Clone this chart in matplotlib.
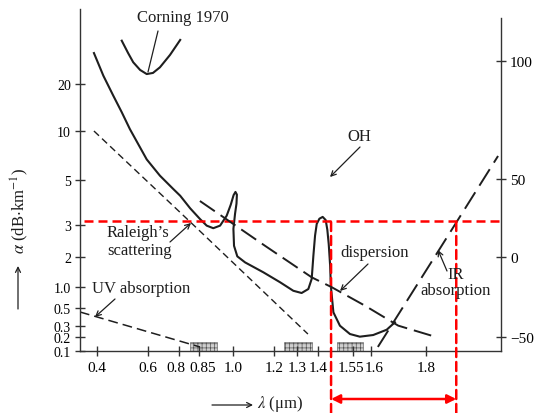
import numpy as np
import matplotlib
matplotlib.use("Agg")
import matplotlib.pyplot as plt
from matplotlib.transforms import ScaledTranslation

plt.rcParams['font.family'] = ['Liberation Serif', 'DejaVu Serif']
plt.rcParams['mathtext.fontset'] = 'stix'
plt.rcParams['hatch.linewidth'] = 0.5

# total attenuation of a low-loss fibre (dB/km)
loss_lam = [0.388, 0.425, 0.464, 0.497, 0.529, 0.595, 0.677, 0.763, 0.803, 0.828,
            0.854, 0.884, 0.913, 0.943, 0.972, 0.990, 1.003, 1.012, 1.019, 1.017,
            1.010, 1.002, 1.005, 1.021, 1.059, 1.148, 1.226, 1.284, 1.322, 1.354,
            1.370, 1.378, 1.386, 1.394, 1.406, 1.420, 1.433, 1.440, 1.446, 1.452,
            1.455, 1.466, 1.494, 1.537, 1.569, 1.608, 1.657, 1.687]
loss_alpha = [36.5, 24.4, 17.5, 14.0, 10.4, 7.1, 5.44, 4.6, 4.3, 3.74,
              3.27, 2.98, 2.90, 2.98, 3.41, 3.90, 4.33, 4.47, 4.35, 3.95,
              3.50, 2.88, 2.35, 2.02, 1.82, 1.49, 1.16, 0.91, 0.857, 0.952,
              1.27, 2.04, 2.67, 3.05, 3.28, 3.36, 3.22, 2.85, 2.40, 1.71,
              1.04, 0.452, 0.303, 0.227, 0.203, 0.218, 0.266, 0.341]

corning_lam = [0.497, 0.522, 0.542, 0.569, 0.595, 0.632, 0.677, 0.742, 0.803]
corning_alpha = [43.1, 36.5, 31.6, 27.5, 25.3, 25.9, 28.9, 35.5, 43.5]

rayleigh_lam = [0.388, 0.854, 1.352]
rayleigh_alpha = [10.0, 2.81, 0.227]

uv_lam = [0.333, 0.854]
uv_alpha = [0.456, 0.129]

ir_lam = [1.625, 1.851, 2.062]
ir_alpha = [0.129, 2.27, 7.45]

# dispersion, right-hand axis
disp_lam = [0.854, 1.156, 1.370, 1.459, 1.583, 1.699, 1.821]
disp_val = [35.9, 7.2, -12.7, -18.9, -30.4, -42.9, -49.2]

# the three transmission windows (hatched boxes on the axis)
win_lo = [0.8275, 1.243, 1.482]
win_hi = [0.929, 1.371, 1.578]
win_top = 0.164

# red overlay: loss threshold and the usable band
red_alpha = 3.18
red_band = [1.456, 1.91]

x_ticks = [0.4, 0.6, 0.8, 0.85, 1.0, 1.2, 1.3, 1.4, 1.55, 1.6, 1.8]
x_labels = ['0.4', '0.6', '0.8', '0.85', '1.0', '1.2', '1.3', '1.4', '1.55', '1.6', '1.8']
y_ticks = [0.1, 0.2, 0.3, 0.5, 1.0, 2, 3, 5, 10, 20]
y_labels = ['0.1', '0.2', '0.3', '0.5', '1.0', '2', '3', '5', '10', '20']
d_ticks = [-50, 0, 50, 100]
d_labels = ['\u221250', '0', '50', '100']

# the book's axes are hand spaced, so each scale is piecewise linear
lam_ref = [0.0, 0.4, 0.6, 0.8, 0.85, 1.0, 1.2, 1.3, 1.4, 1.55, 1.6, 1.8, 3.0]
lam_pos = [-5, 97, 148, 179, 199, 233, 274, 297, 318, 353, 371, 426, 756]
alpha_ref = [-1.0, 0.1, 0.2, 0.3, 0.5, 1.0, 2, 3, 5, 10, 20, 60, 200]
alpha_pos = [-154, 0, 14, 25, 43, 64, 94, 126, 171, 220, 267, 342, 604.5]
disp_ref = [-200, -50, 0, 50, 100, 300]
disp_pos = [-226, 14, 94, 172, 290, 762]


def piecewise(ref, pos):
    fwd = lambda v: np.interp(v, ref, pos)
    inv = lambda p: np.interp(p, pos, ref)
    return fwd, inv


W, H = 535, 414


def fxy(x, y):
    return (x / W, 1 - y / H)


fig = plt.figure(figsize=(W / 100, H / 100), dpi=100)
ax = fig.add_axes([80 / W, 62 / H, 421 / W, 342 / H])
ax2 = ax.twinx()

ax.set_xscale('function', functions=piecewise(lam_ref, lam_pos))
ax.set_yscale('function', functions=piecewise(alpha_ref, alpha_pos))
ax2.set_yscale('function', functions=piecewise(disp_ref, disp_pos))
ax.set_xlim(np.interp(80, lam_pos, lam_ref), np.interp(501, lam_pos, lam_ref))
ax.set_ylim(0.1, 60)
ax2.set_ylim(np.interp(0, disp_pos, disp_ref), np.interp(342, disp_pos, disp_ref))

ink = '#1e1e1e'
ax.plot(loss_lam, loss_alpha, color=ink, lw=1.5)
ax.plot(corning_lam, corning_alpha, color=ink, lw=1.5)
ax.plot(rayleigh_lam, rayleigh_alpha, color=ink, lw=1.0, dashes=(5, 3))
ax.plot(uv_lam, uv_alpha, color=ink, lw=1.1, dashes=(6.4, 3.3))
ax.plot(ir_lam, ir_alpha, color=ink, lw=1.4, dashes=(10, 4), clip_on=False)
ax2.plot(disp_lam, disp_val, color=ink, lw=1.4, dashes=(9.3, 3.6))

for lo, hi in zip(win_lo, win_hi):
    ax.bar(lo, win_top - 0.1, width=hi - lo, bottom=0.1, align='edge',
           facecolor='#cfcfcf', edgecolor='#555555', hatch='++++', lw=0.4)

# axes look
for a in (ax, ax2):
    a.spines['top'].set_visible(False)
ax.spines['right'].set_visible(False)
ax2.spines['left'].set_visible(False)
ax2.spines['bottom'].set_visible(False)
ax2.spines['right'].set_bounds(ax2.get_ylim()[0], np.interp(333, disp_pos, disp_ref))
for sp in list(ax.spines.values()) + list(ax2.spines.values()):
    sp.set_color('#333333')
    sp.set_linewidth(1.0)

ax.set_xticks(x_ticks)
ax.set_xticklabels(x_labels)
ax.set_yticks(y_ticks)
ax.set_yticklabels(y_labels)
ax2.set_yticks(d_ticks)
ax2.set_yticklabels(d_labels)
ax.xaxis.set_minor_locator(matplotlib.ticker.NullLocator())
ax.yaxis.set_minor_locator(matplotlib.ticker.NullLocator())
ax2.yaxis.set_minor_locator(matplotlib.ticker.NullLocator())
ax.tick_params(axis='x', direction='inout', length=7, width=1, labelsize=11, pad=4, color='#333333')
ax.tick_params(axis='y', direction='inout', length=7, width=1, labelsize=10, pad=3, color='#333333')
ax2.tick_params(axis='y', direction='inout', length=7, width=1, labelsize=11, pad=3, color='#333333')

# crowded tick labels are pushed apart a little, as in the book
nudges = {'0.8': -3, '0.85': 4, '1.55': -2, '1.6': 3}
for lab in ax.get_xticklabels():
    dx = nudges.get(lab.get_text(), 0)
    if dx:
        lab.set_transform(lab.get_transform() + ScaledTranslation(dx / 100, 0, fig.dpi_scale_trans))

# red overlay
red_dash = (3.6, 2.0)
ax.axhline(red_alpha, xmin=4 / 421, xmax=1, color='red', lw=1.8, dashes=red_dash)
for edge in red_band:
    ax.annotate('', xy=(edge, red_alpha), xycoords='data',
                xytext=(edge, 0), textcoords=('data', 'figure fraction'),
                arrowprops=dict(arrowstyle='-', color='red', lw=1.8,
                                linestyle=(0, red_dash), shrinkA=0, shrinkB=0))
ax.annotate('', xy=(red_band[1], fxy(0, 400)[1]), xycoords=('data', 'figure fraction'),
            xytext=(red_band[0], fxy(0, 400)[1]), textcoords=('data', 'figure fraction'),
            arrowprops=dict(arrowstyle='<|-|>', color='red', lw=1.8,
                            mutation_scale=13, shrinkA=0, shrinkB=0))


def pointer(start, tip, head=True):
    ax.annotate('', xy=fxy(*tip), xycoords='figure fraction',
                xytext=fxy(*start), textcoords='figure fraction',
                arrowprops=dict(arrowstyle='->' if head else '-', lw=0.9, color=ink,
                                shrinkA=0, shrinkB=0, mutation_scale=9))


fs = 12
fig.text(*fxy(183, 18), 'Corning 1970', ha='center', va='center', fontsize=fs, color=ink)
pointer((158, 32), (148, 73), head=False)
fig.text(*fxy(359, 137), 'OH', ha='center', va='center', fontsize=fs, color=ink)
pointer((360, 148), (330, 178))
fig.text(*fxy(107, 242), 'Raleigh\u2019s\nscattering', ha='left', va='center',
         fontsize=fs, linespacing=1.1, color=ink)
pointer((170, 243), (191, 224))
fig.text(*fxy(92, 289), 'UV absorption', ha='left', va='center', fontsize=fs, color=ink)
pointer((115, 300), (95, 318))
fig.text(*fxy(375, 253), 'dispersion', ha='center', va='center', fontsize=fs, color=ink)
pointer((368, 265), (340, 292))
fig.text(*fxy(456, 283), 'IR\nabsorption', ha='center', va='center', fontsize=fs,
         linespacing=1.0, color=ink)
pointer((447, 272), (438, 251))

# axis titles with their arrows, as in the book
fig.text(*fxy(20, 211), r'$\alpha$ (dB$\cdot$km$^{-1}$)', rotation=90,
         ha='center', va='center', fontsize=fs, color=ink)
pointer((18, 310), (18, 267))
pointer((212, 406), (253, 406))
fig.text(*fxy(257, 404), r'$\lambda$ (μm)', ha='left', va='center', fontsize=fs, color=ink)

fig.savefig('out.png', dpi=100)
